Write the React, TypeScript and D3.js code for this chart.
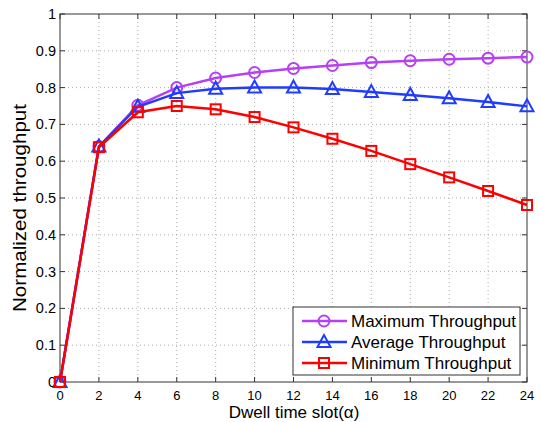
import React from "react";
import * as d3 from "d3";

const slots = [0, 2, 4, 6, 8, 10, 12, 14, 16, 18, 20, 22, 24];
const maxThroughput = [0, 0.64, 0.752, 0.8, 0.826, 0.841, 0.852, 0.86, 0.868, 0.873, 0.877, 0.88, 0.883];
const avgThroughput = [0, 0.64, 0.748, 0.785, 0.797, 0.8, 0.8, 0.796, 0.788, 0.78, 0.771, 0.761, 0.749];
const minThroughput = [0, 0.638, 0.733, 0.75, 0.741, 0.72, 0.692, 0.661, 0.628, 0.592, 0.556, 0.519, 0.481];
const xTicks = [0, 2, 4, 6, 8, 10, 12, 14, 16, 18, 20, 22, 24];
const yTicks = [0, 0.1, 0.2, 0.3, 0.4, 0.5, 0.6, 0.7, 0.8, 0.9, 1];
const yTickLabels = ["0", "0.1", "0.2", "0.3", "0.4", "0.5", "0.6", "0.7", "0.8", "0.9", "1"];
const seriesNames = ["Maximum Throughput", "Average Throughput", "Minimum Throughput"];
const seriesColors = ["#b540f5", "#1f3cff", "#ff0000"];
const seriesMarkers = ["circle", "triangle", "square"];

const W = 540, H = 422;
const L = 60, R = 527, T = 14, B = 382;
const font = "'Liberation Sans', Arial, Helvetica, sans-serif";

function Marker({ type, x, y, color }: { type: string; x: number; y: number; color: string }) {
  if (type === "circle") return <circle cx={x} cy={y} r={5.5} fill="none" stroke={color} strokeWidth={2} />;
  if (type === "triangle") {
    const p = `${x},${y - 7} ${x - 6.5},${y + 5} ${x + 6.5},${y + 5}`;
    return <polygon points={p} fill="none" stroke={color} strokeWidth={2} />;
  }
  return <rect x={x - 5} y={y - 5} width={10} height={10} fill="none" stroke={color} strokeWidth={2} />;
}

export default function App() {
  const x = d3.scaleLinear().domain([0, 24]).range([L, R]);
  const y = d3.scaleLinear().domain([0, 1]).range([B, T]);
  const data = [maxThroughput, avgThroughput, minThroughput];
  const line = d3.line<number>().x((_, i) => x(slots[i])).y((d) => y(d));
  const legX = 293, legY = 307, legW = 227, legH = 68;
  return (
    <svg width={W} height={H} style={{ position: "absolute", left: 0, top: 0, background: "#fff" }}>
      <rect x={0} y={0} width={W} height={H} fill="#fff" />
      {/* grid */}
      {xTicks.slice(1, -1).map((t) => (
        <line key={"gx" + t} x1={x(t)} x2={x(t)} y1={T} y2={B} stroke="#999" strokeWidth={0.8} strokeDasharray="1,3" />
      ))}
      {yTicks.slice(1, -1).map((t) => (
        <line key={"gy" + t} x1={L} x2={R} y1={y(t)} y2={y(t)} stroke="#999" strokeWidth={0.8} strokeDasharray="1,3" />
      ))}
      {/* ticks */}
      {xTicks.map((t) => (
        <g key={"tx" + t}>
          <line x1={x(t)} x2={x(t)} y1={B} y2={B - 5} stroke="#333" />
          <line x1={x(t)} x2={x(t)} y1={T} y2={T + 5} stroke="#333" />
          <text x={x(t)} y={400} textAnchor="middle" fontSize={13} fontFamily={font} fill="#000">{t}</text>
        </g>
      ))}
      {yTicks.map((t, i) => (
        <g key={"ty" + t}>
          <line x1={L} x2={L + 5} y1={y(t)} y2={y(t)} stroke="#333" />
          <line x1={R} x2={R - 5} y1={y(t)} y2={y(t)} stroke="#333" />
          <text x={L - 4} y={y(t) + 5} textAnchor="end" fontSize={14.5} fontFamily={font} fill="#000">{yTickLabels[i]}</text>
        </g>
      ))}
      <rect x={L} y={T} width={R - L} height={B - T} fill="none" stroke="#333" strokeWidth={1} />
      {/* series */}
      {data.map((s, k) => (
        <g key={"s" + k}>
          <path d={line(s) || ""} fill="none" stroke={seriesColors[k]} strokeWidth={2.5} />
          {s.map((v, i) => (
            <Marker key={i} type={seriesMarkers[k]} x={x(slots[i])} y={y(v)} color={seriesColors[k]} />
          ))}
        </g>
      ))}
      {/* legend */}
      <rect x={legX} y={legY} width={legW} height={legH} fill="#fff" stroke="#333" strokeWidth={1} />
      {seriesNames.map((n, k) => {
        const yy = legY + 14 + k * 21;
        return (
          <g key={"l" + k}>
            <line x1={legX + 9} x2={legX + 54} y1={yy} y2={yy} stroke={seriesColors[k]} strokeWidth={2.5} />
            <Marker type={seriesMarkers[k]} x={legX + 31} y={yy} color={seriesColors[k]} />
            <text x={legX + 58} y={yy + 6} fontSize={17} fontFamily={font} fill="#000">{n}</text>
          </g>
        );
      })}
      {/* axis titles */}
      <text x={294} y={418} textAnchor="middle" fontSize={17} fontFamily={font} fill="#000">Dwell time slot(α)</text>
      <text transform={`translate(26,208) rotate(-90)`} textAnchor="middle" fontSize={18} textLength={208} lengthAdjust="spacingAndGlyphs" fontFamily={font} fill="#000">Normalized throughput</text>
    </svg>
  );
}
